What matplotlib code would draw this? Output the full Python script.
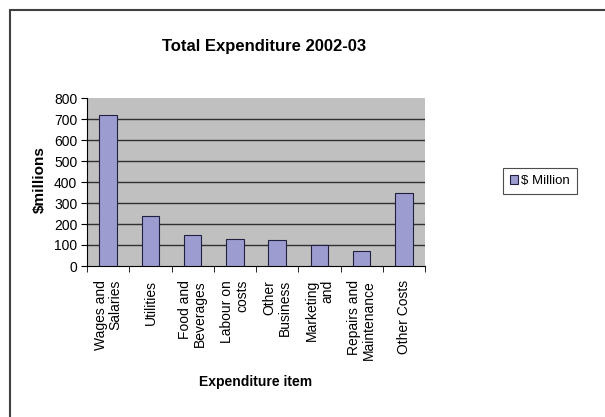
import matplotlib
matplotlib.use("Agg")
import numpy as np
from matplotlib import pyplot as plt
from matplotlib.patches import Rectangle

plt.rcParams["font.family"] = ["Liberation Sans", "DejaVu Sans"]

# data
categories = [
    "Wages and\nSalaries",
    "Utilities",
    "Food and\nBeverages",
    "Labour on\ncosts",
    "Other\nBusiness",
    "Marketing\nand",
    "Repairs and\nMaintenance",
    "Other Costs",
]
values = [720, 240, 150, 130, 125, 100, 70, 350]
y_ticks = [0, 100, 200, 300, 400, 500, 600, 700, 800]
series_name = "$ Million"

bar_color = "#9c9cd0"
plot_bg = "#c0c0c0"

fig = plt.figure(figsize=(6.05, 4.17), dpi=100)
fig.patch.set_facecolor("white")

# outer chart border (runs off the right and bottom edge)
fig.add_artist(Rectangle((10 / 605, -0.05), 1.2, 1 - 10 / 417 + 0.05,
                         transform=fig.transFigure, fill=False,
                         edgecolor="#404040", linewidth=1.5))

ax = fig.add_axes([87 / 605, 1 - 266 / 417, (425 - 87) / 605, (266 - 98) / 417])
ax.set_facecolor(plot_bg)

x = np.arange(len(categories))
ax.bar(x, values, width=0.42, color=bar_color, edgecolor="#202040",
       linewidth=0.8, zorder=3, label=series_name)

ax.set_ylim(0, 800)
ax.set_xlim(-0.5, len(categories) - 0.5)
ax.set_yticks(y_ticks)
ax.set_yticklabels([str(v) for v in y_ticks], fontsize=10)
for v in y_ticks[1:-1]:
    ax.axhline(v, color="#303030", linewidth=1.0, zorder=1)

ax.set_xticks(x)
ax.set_xticklabels(categories, rotation=90, fontsize=10, va="top",
                   ha="center", multialignment="right", linespacing=1.1)
ax.tick_params(axis="x", length=0, pad=10)
ax.set_xticks(np.arange(-0.5, len(categories)), minor=True)
ax.tick_params(axis="x", which="minor", length=4, direction="out")
ax.tick_params(axis="y", length=4, direction="out", pad=3)

for s in ["top", "right"]:
    ax.spines[s].set_visible(False)
ax.spines["left"].set_color("black")
ax.spines["bottom"].set_color("black")

fig.text(264 / 605, 1 - 47 / 417, "Total Expenditure 2002-03",
         ha="center", va="center", fontsize=12, fontweight="bold")
fig.text(40 / 605, 1 - 180 / 417, "$millions", rotation=90,
         ha="center", va="center", fontsize=11, fontweight="bold")
fig.text(256 / 605, 1 - 382 / 417, "Expenditure item",
         ha="center", va="center", fontsize=10, fontweight="bold")

leg = ax.legend(loc="center left", bbox_to_anchor=(503 / 605, 1 - 181 / 417),
                bbox_transform=fig.transFigure, fontsize=9.5,
                frameon=True, fancybox=False, handlelength=0.6,
                handleheight=0.6, handletextpad=0.3, borderpad=0.5,
                borderaxespad=0)
leg.get_frame().set_edgecolor("#202020")
leg.get_frame().set_linewidth(0.8)

fig.savefig("out.png", dpi=100)
